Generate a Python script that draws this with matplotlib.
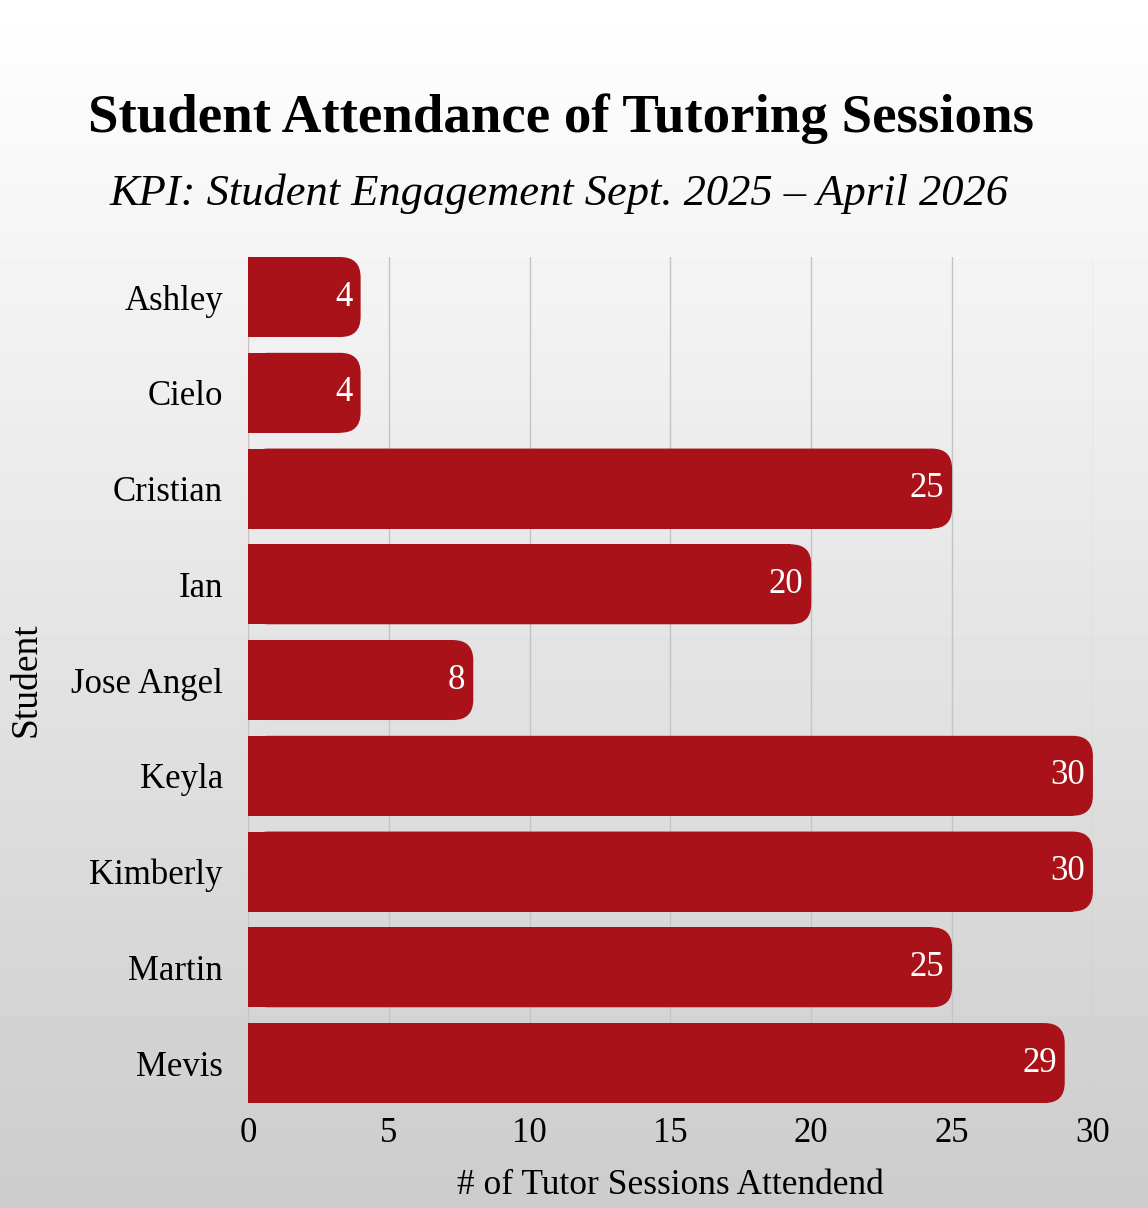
import numpy as np
import matplotlib
matplotlib.use("Agg")
import matplotlib.pyplot as plt
from matplotlib.patches import FancyBboxPatch

students = ["Ashley", "Cielo", "Cristian", "Ian", "Jose Angel",
            "Keyla", "Kimberly", "Martin", "Mevis"]
sessions = [4, 4, 25, 20, 8, 30, 30, 25, 29]
x_ticks = [0, 5, 10, 15, 20, 25, 30]

plt.rcParams['font.family'] = ['Liberation Serif', 'DejaVu Serif']

BAR_RED = "#a81218"
bar_h = 0.835

fig = plt.figure(figsize=(11.48, 12.08), dpi=100)

# background gradient (white at top, light gray at bottom)
bg = fig.add_axes([0, 0, 1, 1], zorder=-10)
grad = np.linspace(1.0, 0.80, 256).reshape(-1, 1)
bg.imshow(grad, aspect="auto", cmap="gray", vmin=0, vmax=1,
          extent=[0, 1, 0, 1])
bg.axis("off")

ax = fig.add_axes([0.216, 0.0869, 0.736, 0.7003])
ax.set_facecolor("none")

y = np.arange(len(students))
bars = ax.barh(y, sessions, height=bar_h, color=BAR_RED,
               linewidth=0, zorder=3)

# rounded right ends: keep left part square, round the full bar
r = 0.72
px_x = 845 / 30.0
px_y = 846 / (len(students) - 1 + bar_h)
for b, v in zip(bars, sessions):
    bx, by, bw, bh = b.get_x(), b.get_y(), b.get_width(), b.get_height()
    b.set_width(bw - r)
    ax.add_patch(FancyBboxPatch((bx, by), bw, bh,
                                boxstyle=f"round,pad=0,rounding_size={r}",
                                mutation_aspect=px_x / px_y,
                                facecolor=BAR_RED, edgecolor="none",
                                zorder=3))
    ax.text(v - 0.28, by + bh / 2, str(v), color="white", fontsize=25,
            ha="right", va="center", zorder=4)

ax.set_xlim(0, 30)
ax.set_ylim(len(students) - 1 + bar_h / 2, -bar_h / 2)
ax.set_yticks(y)
ax.set_yticklabels(students, fontsize=25)
ax.set_xticks(x_ticks)
ax.set_xticklabels([str(t) for t in x_ticks], fontsize=25)
ax.tick_params(axis="both", length=0)
ax.tick_params(axis="y", pad=18)
ax.tick_params(axis="x", pad=10)

ax.grid(axis="x", color="#c4c4c4", linewidth=1.0, zorder=0)
for s in ["top", "right", "bottom"]:
    ax.spines[s].set_visible(False)
ax.spines["left"].set_color("#c4c4c4")
ax.spines["left"].set_zorder(1)

ax.set_xlabel("# of Tutor Sessions Attendend", fontsize=25.5, labelpad=14)
ax.set_ylabel("Student", fontsize=27, labelpad=20)

fig.text(0.489, 0.902, "Student Attendance of Tutoring Sessions",
         fontsize=39.5, fontweight="bold", ha="center", va="center")
fig.text(0.487, 0.840, "KPI: Student Engagement Sept. 2025 \u2013 April 2026",
         fontsize=32, style="italic", ha="center", va="center")

fig.savefig("out.png", dpi=100)
